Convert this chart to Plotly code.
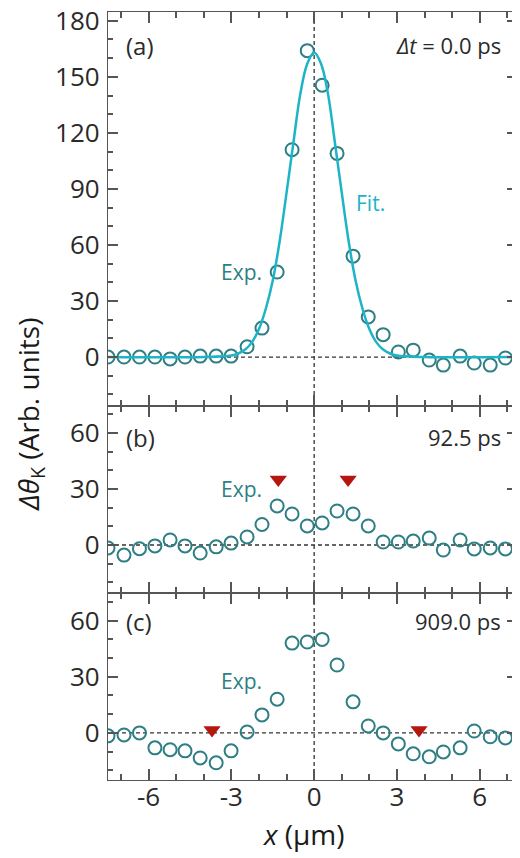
import plotly.graph_objects as go

# ---------------- data ----------------
x_pos = [-7.47, -6.89, -6.33, -5.77, -5.22, -4.68, -4.13, -3.55, -3.01, -2.43,
         -1.89, -1.34, -0.80, -0.25, 0.29, 0.83, 1.41, 1.96, 2.50, 3.05,
         3.59, 4.17, 4.68, 5.29, 5.80, 6.38, 6.93]

exp_a = [0, 0, 0, 0, -1, 0, 0.5, 0.5, 0.5, 5.5,
         15.5, 45.5, 111, 164, 145.5, 109, 54, 21.5, 12, 2.7,
         3.7, -1.6, -4.3, 0.5, -3.2, -4.3, -0.5]

exp_b = [-1.6, -5.4, -2, -0.5, 2.7, -0.5, -4.3, -1, 1, 4.3,
         11, 20.9, 16.6, 10.2, 11.8, 18.2, 16.6, 10.2, 1.6, 1.6,
         2.1, 3.7, -2.7, 2.7, -2.1, -1.6, -2.1]

exp_c = [-1.6, -1.1, 0, -8, -9, -9.6, -13.4, -16, -9.6, 0.5,
         9.6, 18, 48, 48.6, 50, 36.3, 16.6, 3.7, 0, -5.9,
         -11.2, -12.8, -10.2, -8, 1, -2.1, -2.7]

fit_x = [-7.5, -4.0, -3.0, -2.75, -2.5, -2.25, -2.0, -1.75, -1.5, -1.25, -1.0,
         -0.75, -0.5, -0.25, 0.0, 0.25, 0.5, 0.75, 1.0, 1.25, 1.5, 1.75, 2.0,
         2.25, 2.5, 2.75, 3.0, 4.0, 7.4]
fit_y = [0, 0, 0.8, 1.9, 4, 8, 15, 26, 41, 62, 88,
         115, 141, 157, 163, 157, 141, 115, 88, 62, 41, 26, 15,
         8, 4, 1.9, 0.8, 0, 0]

tri_b_x = [-1.3, 1.23]
tri_b_y = [35, 35]
tri_c_x = [-3.7, 3.8]
tri_c_y = [1.6, 1.6]

x_tickvals = [-6, -3, 0, 3, 6]
x_ticktext = ["-6", "-3", "0", "3", "6"]
panel_labels = ["(a)", "(b)", "(c)"]
time_labels = ["<i>Δt</i> = 0.0 ps", "92.5 ps", "909.0 ps"]

# ---------------- style ----------------
FONT = "Open Sans"
EXP_COL = "#2E7F84"
FIT_COL = "#1CB4C6"
TRI_COL = "#B5160F"
AX_COL = "#555555"
TXT_COL = "#2a2a2a"

fig = go.Figure()

marker_exp = dict(symbol="circle-open", size=13, color=EXP_COL, line=dict(width=2, color=EXP_COL))

fig.add_trace(go.Scatter(x=x_pos, y=exp_a, mode="markers", marker=marker_exp,
                         xaxis="x", yaxis="y", showlegend=False))
fig.add_trace(go.Scatter(x=fit_x, y=fit_y, mode="lines", line=dict(color=FIT_COL, width=2.5, shape="spline"),
                         xaxis="x", yaxis="y", showlegend=False))
fig.add_trace(go.Scatter(x=x_pos, y=exp_b, mode="markers", marker=marker_exp,
                         xaxis="x2", yaxis="y2", showlegend=False))
fig.add_trace(go.Scatter(x=tri_b_x, y=tri_b_y, mode="markers",
                         marker=dict(symbol="triangle-down", size=15, color=TRI_COL),
                         xaxis="x2", yaxis="y2", showlegend=False))
fig.add_trace(go.Scatter(x=x_pos, y=exp_c, mode="markers", marker=marker_exp,
                         xaxis="x3", yaxis="y3", showlegend=False))
fig.add_trace(go.Scatter(x=tri_c_x, y=tri_c_y, mode="markers",
                         marker=dict(symbol="triangle-down", size=15, color=TRI_COL),
                         xaxis="x3", yaxis="y3", showlegend=False))

# page has an 8px body margin; work in page pixels and convert
OFF = 8
W, H = 520 - OFF, 858 - OFF
PL, PR, PT, PB = 108, 517, 12, 780          # plot area in page pixels
ml, mr, mt, mb = PL - OFF, (W + OFF) - PR, PT - OFF, (H + OFF) - PB
ph = PB - PT  # 768
dom_c = [0, 187 / ph]
dom_b = [187 / ph, 374 / ph]
dom_a = [374 / ph, 1]

xrange_ = [-7.47, 7.35]

def xax(show_labels, anchor):
    return dict(range=xrange_, anchor=anchor, domain=[0, 1], automargin=False,
                showline=True, linecolor=AX_COL, linewidth=1.3, mirror="ticks",
                ticks="inside", ticklen=11, tickwidth=1.5, tickcolor=AX_COL,
                tickvals=x_tickvals, ticktext=x_ticktext,
                showticklabels=show_labels, ticklabelstandoff=-6,
                ticklabeloverflow="allow",
                tickfont=dict(family=FONT, size=26, color=TXT_COL),
                minor=dict(dtick=1, tick0=0, ticks="inside", ticklen=5.5, tickwidth=1.5, tickcolor=AX_COL),
                showgrid=False, zeroline=False)

def yax(rng, domain, anchor, vals):
    return dict(range=rng, domain=domain, anchor=anchor, automargin=False,
                showline=True, linecolor=AX_COL, linewidth=1.3, mirror="ticks",
                ticks="inside", ticklen=10, tickwidth=1.5, tickcolor=AX_COL,
                tickvals=vals, ticklabelstandoff=2, ticklabeloverflow="allow",
                tickfont=dict(family=FONT, size=26, color=TXT_COL),
                minor=dict(dtick=10, tick0=0, ticks="inside", ticklen=5, tickwidth=1.5, tickcolor=AX_COL),
                showgrid=False, zeroline=False)

fig.update_layout(
    width=W, height=H,
    margin=dict(l=ml, r=mr, t=mt, b=mb, pad=0),
    paper_bgcolor="white", plot_bgcolor="white",
    xaxis=xax(False, "y"),
    xaxis2=xax(False, "y2"),
    xaxis3=xax(True, "y3"),
    yaxis=yax([-26.2, 184.7], dom_a, "x", [0, 30, 60, 90, 120, 150, 180]),
    yaxis2=yax([-25.7, 74.4], dom_b, "x2", [0, 30, 60]),
    yaxis3=yax([-25.2, 74.8], dom_c, "x3", [0, 30, 60]),
)
fig.update_layout(xaxis2=dict(matches="x"), xaxis3=dict(matches="x"))

dash = dict(color="#333333", width=1.3, dash="4px,3px")
shapes = [dict(type="line", xref="x", yref="paper", x0=0, x1=0, y0=0, y1=1, line=dash, layer="below")]
for yref in ["y", "y2", "y3"]:
    shapes.append(dict(type="line", xref="paper", yref=yref, x0=0, x1=1, y0=0, y1=0, line=dash, layer="below"))
fig.update_layout(shapes=shapes)

def px_x(p):
    return (p - PL) / (PR - PL)

def px_y(p):
    return (PB - p) / ph

ann = []
label_y = [45, 437, 621]
for lab, tl, yy in zip(panel_labels, time_labels, label_y):
    ann.append(dict(text=lab, x=px_x(124), y=px_y(yy), xref="paper", yref="paper",
                    xanchor="left", yanchor="middle", showarrow=False,
                    font=dict(family=FONT, size=24, color=TXT_COL)))
    ann.append(dict(text=tl, x=px_x(503), y=px_y(yy), xref="paper", yref="paper",
                    xanchor="right", yanchor="middle", showarrow=False,
                    font=dict(family=FONT, size=22, color=TXT_COL)))

for yy in [272, 489, 681]:
    ann.append(dict(text="Exp.", x=px_x(264), y=px_y(yy), xref="paper", yref="paper",
                    xanchor="right", yanchor="middle", showarrow=False,
                    font=dict(family=FONT, size=21, color=EXP_COL)))
ann.append(dict(text="Fit.", x=px_x(354), y=px_y(203), xref="paper", yref="paper",
                xanchor="left", yanchor="middle", showarrow=False,
                font=dict(family=FONT, size=21, color=FIT_COL)))

ann.append(dict(text="<i>Δθ</i><sub>K</sub> (Arb. units)", x=px_x(30), y=px_y(415),
                xref="paper", yref="paper", xanchor="center", yanchor="middle",
                textangle=-90, showarrow=False,
                font=dict(family=FONT, size=28, color="#1a1a1a")))
ann.append(dict(text="<i>x</i> (μm)", x=px_x(303), y=px_y(834),
                xref="paper", yref="paper", xanchor="center", yanchor="middle",
                showarrow=False, font=dict(family=FONT, size=28, color="#1a1a1a")))
fig.update_layout(annotations=ann)

fig.write_html("out.html")
